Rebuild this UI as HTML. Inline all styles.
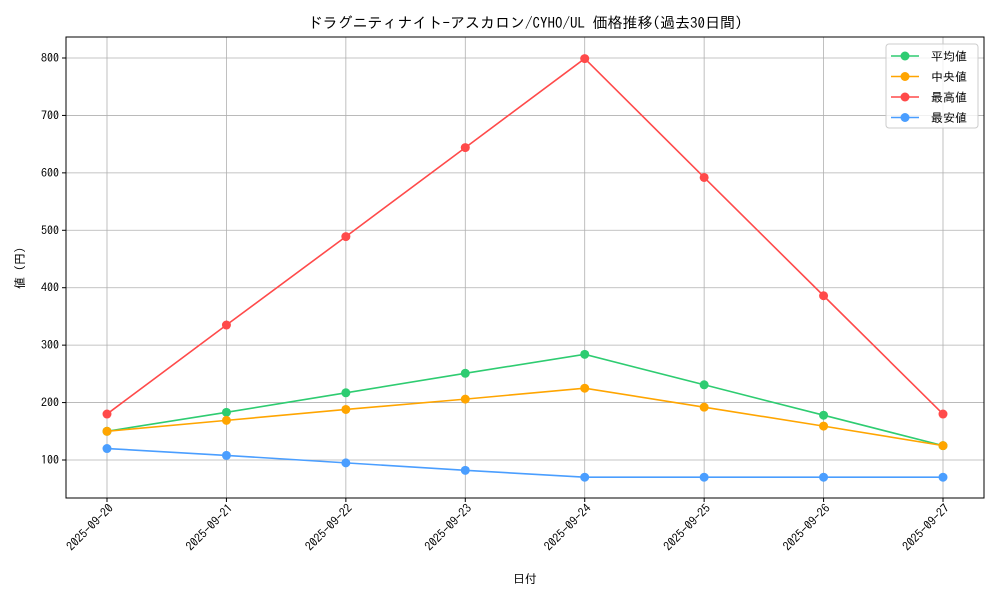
<!DOCTYPE html>
<html><head><meta charset="utf-8"><style>
body{margin:0;background:#fff}
svg{font-family:"IPAGothic","Liberation Sans","Noto Sans CJK JP",sans-serif}
</style></head><body>
<svg id="chart" width="1000" height="600" xmlns="http://www.w3.org/2000/svg">
<rect width="1000" height="600" fill="#fff"/>
<text x="525" y="28" font-size="15" text-anchor="middle">ドラグニティナイト-アスカロン/CYHO/UL 価格推移(過去30日間)</text>
<g id="grid"></g><g id="axes"></g><g id="series"></g>
<text x="525" y="583" font-size="12" text-anchor="middle">日付</text>
<text transform="translate(24,268) rotate(-90)" font-size="12" text-anchor="middle">値 (円)</text>
<g>
<rect x="886" y="44" width="92" height="84" rx="3" fill="#fff" fill-opacity="0.8" stroke="#ccc"/>
</g>
<g id="legend"></g>
</svg>
<script>
const dates=["2025-09-20","2025-09-21","2025-09-22","2025-09-23","2025-09-24","2025-09-25","2025-09-26","2025-09-27"];
const avgVals=[150,183,217,251,284,231,178,125];
const medVals=[150,169,188,206,225,192,159,125];
const maxVals=[180,335,489,644,799,592,386,180];
const minVals=[120,108,95,82,70,70,70,70];
const yTicks=[100,200,300,400,500,600,700,800];
const seriesNames=["平均値","中央値","最高値","最安値"];
const NS="http://www.w3.org/2000/svg";
const L=66,R=984,T=37,B=498;
function xs(i){return 107+i*(943-107)/(dates.length-1);}
function ys(v){return 460-(v-100)*(402/700);}
function mk(tag,attrs,parent){const e=document.createElementNS(NS,tag);for(const k in attrs)e.setAttribute(k,attrs[k]);parent.appendChild(e);return e;}
const grid=document.getElementById('grid'),axes=document.getElementById('axes'),ser=document.getElementById('series'),leg=document.getElementById('legend');
dates.forEach((d,i)=>{
 const g=mk('line',{x1:xs(i),x2:xs(i),y1:T,y2:B,stroke:'#b0b0b0','stroke-width':0.8},grid);
 
 
 mk('line',{x1:xs(i),x2:xs(i),y1:B,y2:B+4,stroke:'#000'},axes);
 const t=mk('text',{x:xs(i)+7,y:B+11,'font-size':12,'text-anchor':'end',transform:`rotate(-45 ${xs(i)+7} ${B+11})`},axes);
 t.textContent=d;
 
 
});
yTicks.forEach(v=>{
 const g=mk('line',{x1:L,x2:R,y1:ys(v),y2:ys(v),stroke:'#b0b0b0','stroke-width':0.8},grid);
 
 
 mk('line',{x1:L-4,x2:L,y1:ys(v),y2:ys(v),stroke:'#000'},axes);
 const t=mk('text',{x:L-7,y:ys(v)+4,'font-size':12,'text-anchor':'end'},axes);
 t.textContent=v;
 
 
});
const frame=mk('rect',{x:L,y:T,width:R-L,height:B-T,fill:'none',stroke:'#000','stroke-width':1},axes);


const all=[avgVals,medVals,maxVals,minVals];
const colors=["#2ecc71","#ffa500","#ff4a4a","#4a9eff"];
const snames=["series-average","series-median","series-max","series-min"];
all.forEach((vals,s)=>{
 const g=mk('g',{},ser);
 
 
 mk('polyline',{points:vals.map((v,i)=>xs(i)+','+ys(v)).join(' '),fill:'none',stroke:colors[s],'stroke-width':1.6},g);
 vals.forEach((v,i)=>{
  const c=mk('circle',{cx:xs(i),cy:ys(v),r:4.5,fill:colors[s]},g);
  
  
 });
 const y=56+s*20.5;
 const le=mk('g',{},leg);
 
 
 mk('line',{x1:891,x2:919,y1:y,y2:y,stroke:colors[s],'stroke-width':1.6},le);
 mk('circle',{cx:905,cy:y,r:4.5,fill:colors[s]},le);
 const t=mk('text',{x:931,y:y+4.5,'font-size':12},le);
 t.textContent=seriesNames[s];
});
</script>
</body></html>
